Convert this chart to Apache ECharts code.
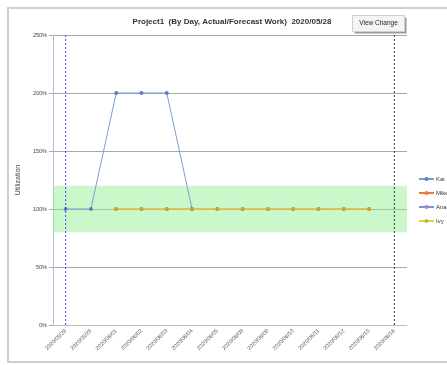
<!DOCTYPE html>
<html>
<head>
<meta charset="utf-8">
<title>Project1 Utilization</title>
<script src="https://cdn.jsdelivr.net/npm/echarts@6/dist/echarts.min.js"></script>
<style>
  html, body { margin: 0; padding: 0; background: #fff; }
  #chart { width: 447px; height: 365px; }
</style>
</head>
<body>
<div id="chart"></div>
<script>
// data
var days = ['2020/05/28', '2020/05/29', '2020/06/01', '2020/06/02', '2020/06/03', '2020/06/04', '2020/06/05',
            '2020/06/08', '2020/06/09', '2020/06/10', '2020/06/11', '2020/06/12', '2020/06/15', '2020/06/16'];
var kai  = [100, 100, 200, 200, 200, 100];
var mike = [null, null, 100, 100, 100, 100, 100, 100, 100, 100, 100, 100, 100];
var ana  = [];
var ivy  = [null, null, 100, 100, 100, 100, 100, 100, 100, 100, 100, 100, 100];
var yTicks = [0, 50, 100, 150, 200, 250];
var band = [80, 120];          // target range
var startDay = '2020/05/28';   // blue dashed line
var endDay = '2020/06/16';     // black dashed line

var chart = echarts.init(document.getElementById('chart'));

var font = 'Liberation Sans';

function lineSeries(name, data, color, extra) {
  var s = {
    name: name,
    type: 'line',
    data: data,
    symbol: 'circle',
    symbolSize: 4,
    showAllSymbol: true,
    lineStyle: { color: color, width: 1 },
    itemStyle: { color: color },
    animation: false
  };
  for (var k in extra) s[k] = extra[k];
  return s;
}

// vertical dashed marker drawn as a 2-point line series through the axes
function dashSeries(name, day, color) {
  return {
    name: name,
    type: 'line',
    data: [[day, yTicks[0]], [day, yTicks[yTicks.length - 1]]],
    symbol: 'none',
    silent: true,
    lineStyle: { color: color, type: [2, 2], width: 1 },
    itemStyle: { color: color },
    z: 6,
    animation: false
  };
}

var option = {
  animation: false,
  textStyle: { fontFamily: font },
  title: {
    text: 'Project1  (By Day, Actual/Forecast Work)  2020/05/28',
    left: 227,
    textAlign: 'center',
    top: 13,
    textStyle: { fontSize: 8, fontWeight: 'bold', color: '#333', fontFamily: font }
  },
  legend: {
    orient: 'vertical',
    left: 413,
    top: 171,
    itemWidth: 15,
    itemHeight: 5,
    itemGap: 8,
    textStyle: { fontSize: 6, color: '#333', padding: [0, 0, 0, -3] },
    data: ['Kai', 'Mike', 'Ana', 'Ivy']
  },
  grid: { left: 53, right: 40, top: 35, bottom: 40 },
  xAxis: {
    type: 'category',
    data: days,
    boundaryGap: true,
    axisLine: { lineStyle: { color: '#bdbdbd', width: 1 } },
    axisTick: { alignWithLabel: true, length: 2, lineStyle: { color: '#bdbdbd' } },
    axisLabel: { rotate: 45, fontSize: 5.5, color: '#555', margin: 5, interval: 0 }
  },
  yAxis: {
    type: 'value',
    min: yTicks[0],
    max: yTicks[yTicks.length - 1],
    interval: 50,
    name: 'Utilization',
    nameLocation: 'middle',
    nameGap: 28,
    nameTextStyle: { fontSize: 7, color: '#444' },
    axisLine: { show: true, lineStyle: { color: '#b8b8e0', width: 1 } },
    axisTick: { show: true, length: 4, lineStyle: { color: '#aaa' } },
    axisLabel: { fontSize: 5.5, color: '#444', margin: 6, formatter: '{value}%' },
    splitLine: { lineStyle: { color: '#a8a8a8', width: 1 } }
  },
  series: [
    lineSeries('Kai', kai, '#7d9bd6', {
      itemStyle: { color: '#5b7fc7' },
      z: 4,
      markArea: {
        silent: true,
        itemStyle: { color: 'rgba(140,240,140,0.45)' },
        data: [[{ yAxis: band[0] }, { yAxis: band[1] }]]
      }
    }),
    lineSeries('Mike', mike, '#ed7d31', { z: 3 }),
    lineSeries('Ana', ana, '#8a8fbf', { z: 2 }),
    lineSeries('Ivy', ivy, '#e6d040', { itemStyle: { color: 'rgba(190,170,40,0.75)' }, z: 5 }),
    dashSeries('start', startDay, '#3550ff'),
    dashSeries('end', endDay, '#333')
  ],
  graphic: [
    {
      type: 'rect',
      shape: { x: 8, y: 8, width: 442, height: 354 },
      style: { fill: 'none', stroke: '#cfcfcf', lineWidth: 2 },
      silent: true
    },
    {
      type: 'group',
      left: 352,
      top: 15,
      children: [
        { type: 'rect', shape: { x: 2, y: 2, width: 52, height: 16 }, style: { fill: '#9a9a9a' } },
        { type: 'rect', shape: { x: 0, y: 0, width: 52, height: 16 }, style: { fill: '#f4f4f4', stroke: '#d0d0d0', lineWidth: 1 } },
        { type: 'text', x: 26, y: 8, style: { text: 'View Change', fontSize: 6.5, fill: '#222', align: 'center', verticalAlign: 'middle', fontFamily: font } }
      ]
    }
  ]
};

chart.setOption(option);
</script>
</body>
</html>
